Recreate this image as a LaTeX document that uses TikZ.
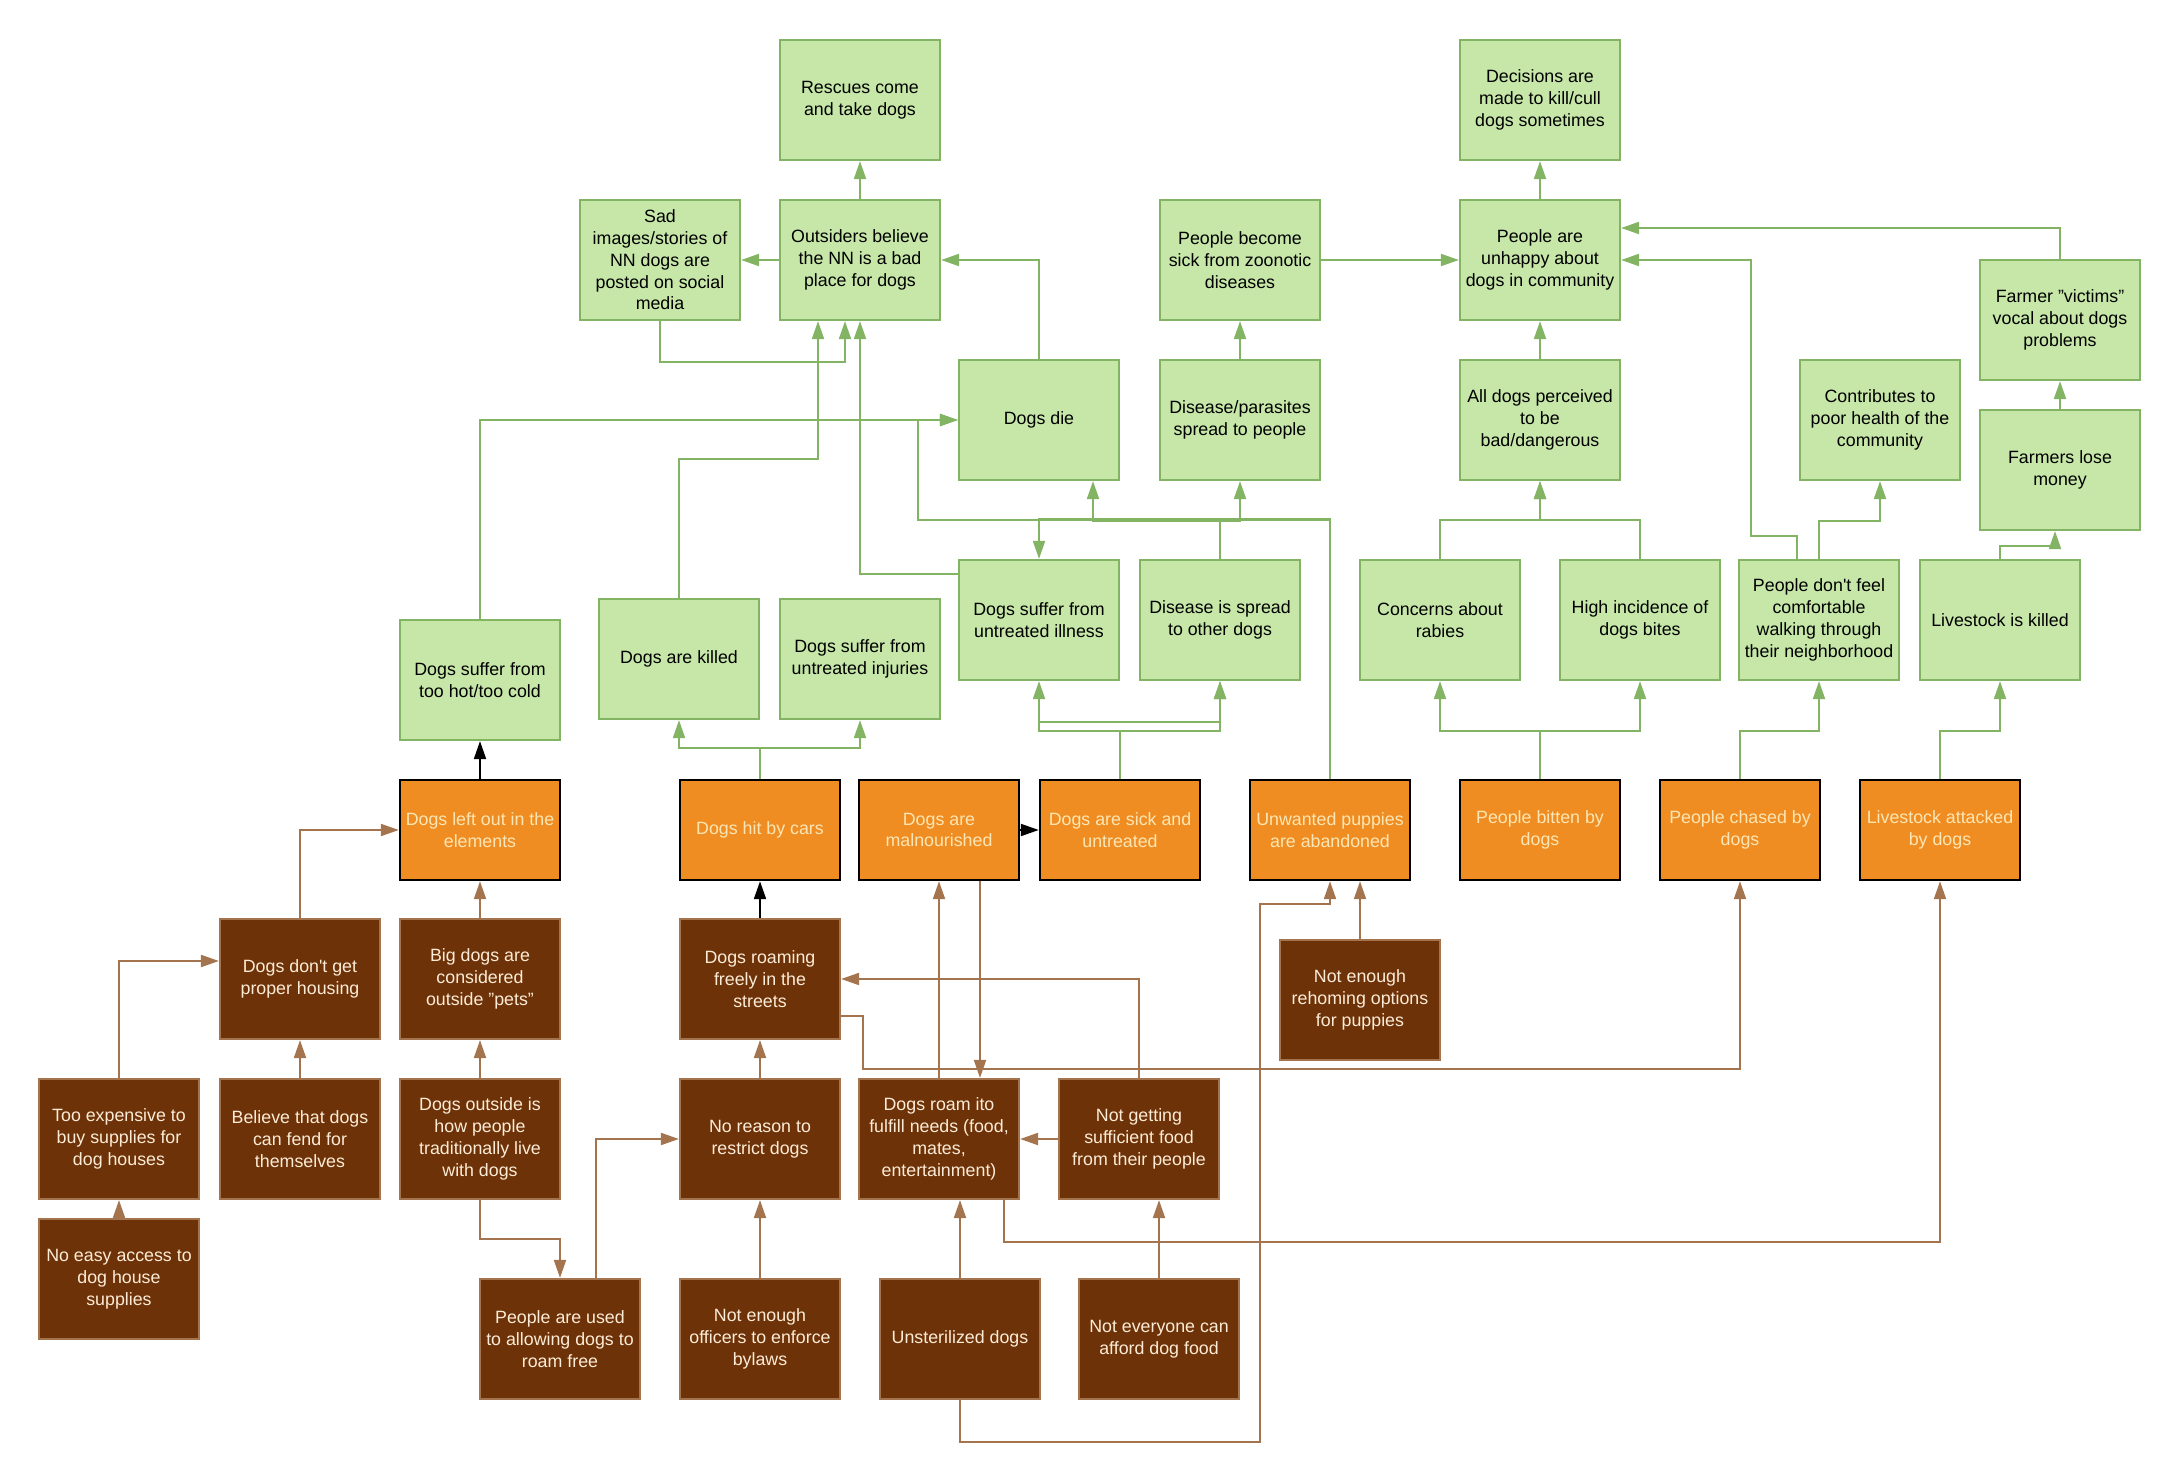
\documentclass[tikz,border=0pt]{standalone}
\usepackage{fontspec}
\setmainfont{Liberation Sans}
\usetikzlibrary{calc, arrows.meta, positioning}

\definecolor{gfill}{RGB}{198,231,168}
\definecolor{gline}{RGB}{130,180,100}
\definecolor{ofill}{RGB}{239,141,34}
\definecolor{otext}{RGB}{253,230,180}
\definecolor{bfill}{RGB}{110,50,8}
\definecolor{bline}{RGB}{164,116,78}
\definecolor{btext}{RGB}{252,236,215}

\begin{document}
\begin{tikzpicture}[x=0.5pt,y=-0.5pt,
    basebox/.style={rectangle, align=center, minimum width=80pt, inner sep=1pt, font=\fontsize{8.9pt}{10.9pt}\selectfont},
    greenbox/.style={basebox, draw=gline, fill=gfill, line width=1.1pt, minimum height=60pt, text=black},
    orangebox/.style={basebox, draw=black, fill=ofill, line width=1.2pt, minimum height=50pt, text=otext},
    brownbox/.style={basebox, draw=bline, fill=bfill, line width=1.1pt, minimum height=60pt, text=btext},
    garrow/.style={draw=gline, line width=1pt, -{Triangle[length=9pt,width=6pt]}},
    brarrow/.style={draw=bline, line width=1pt, -{Triangle[length=9pt,width=6pt]}},
    karrow/.style={draw=black, line width=1pt, -{Triangle[length=9pt,width=6pt]}}]
    \useasboundingbox (0,0) rectangle (2180,1481);

    % consequences
    \node[greenbox] (rescues) at (860,100) {Rescues come\\and take dogs};
    \node[greenbox] (sad) at (660,260) {Sad\\images/stories of\\NN dogs are\\posted on social\\media};
    \node[greenbox] (outsiders) at (860,260) {Outsiders believe\\the NN is a bad\\place for dogs};
    \node[greenbox] (zoonotic) at (1240,260) {People become\\sick from zoonotic\\diseases};
    \node[greenbox] (unhappy) at (1540,260) {People are\\unhappy about\\dogs in community};
    \node[greenbox] (decisions) at (1540,100) {Decisions are\\made to kill/cull\\dogs sometimes};
    \node[greenbox] (victims) at (2060,320) {Farmer "victims"\\vocal about dogs\\problems};
    \node[greenbox] (die) at (1039,420) {Dogs die};
    \node[greenbox] (parasites) at (1240,420) {Disease/parasites\\spread to people};
    \node[greenbox] (perceived) at (1540,420) {All dogs perceived\\to be\\bad/dangerous};
    \node[greenbox] (health) at (1880,420) {Contributes to\\poor health of the\\community};
    \node[greenbox] (money) at (2060,470) {Farmers lose\\money};
    \node[greenbox] (illness) at (1039,620) {Dogs suffer from\\untreated illness};
    \node[greenbox] (spread) at (1220,620) {Disease is spread\\to other dogs};
    \node[greenbox] (rabies) at (1440,620) {Concerns about\\rabies};
    \node[greenbox] (bites) at (1640,620) {High incidence of\\dogs bites};
    \node[greenbox] (walking) at (1819,620) {People don\textquotesingle t feel\\comfortable\\walking through\\their neighborhood};
    \node[greenbox] (livekilled) at (2000,620) {Livestock is killed};
    \node[greenbox] (hotcold) at (480,680) {Dogs suffer from\\too hot/too cold};
    \node[greenbox] (killed) at (679,659) {Dogs are killed};
    \node[greenbox] (injuries) at (860,659) {Dogs suffer from\\untreated injuries};

    % core problems
    \node[orangebox] (leftout) at (480,830) {Dogs left out in the\\elements};
    \node[orangebox] (cars) at (760,830) {Dogs hit by cars};
    \node[orangebox] (malnourished) at (939,830) {Dogs are\\malnourished};
    \node[orangebox] (sick) at (1120,830) {Dogs are sick and\\untreated};
    \node[orangebox] (puppies) at (1330,830) {Unwanted puppies\\are abandoned};
    \node[orangebox] (bitten) at (1540,830) {People bitten by\\dogs};
    \node[orangebox] (chased) at (1740,830) {People chased by\\dogs};
    \node[orangebox] (attacked) at (1940,830) {Livestock attacked\\by dogs};

    % causes
    \node[brownbox] (housing) at (300,979) {Dogs don\textquotesingle t get\\proper housing};
    \node[brownbox] (bigdogs) at (480,979) {Big dogs are\\considered\\outside "pets"};
    \node[brownbox] (roaming) at (760,979) {Dogs roaming\\freely in the\\streets};
    \node[brownbox] (rehoming) at (1360,1000) {Not enough\\rehoming options\\for puppies};
    \node[brownbox] (expensive) at (119,1139) {Too expensive to\\buy supplies for\\dog houses};
    \node[brownbox] (believe) at (300,1139) {Believe that dogs\\can fend for\\themselves};
    \node[brownbox] (outside) at (480,1139) {Dogs outside is\\how people\\traditionally live\\with dogs};
    \node[brownbox] (noreason) at (760,1139) {No reason to\\restrict dogs};
    \node[brownbox] (roamito) at (939,1139) {Dogs roam ito\\fulfill needs (food,\\mates,\\entertainment)};
    \node[brownbox] (notgetting) at (1139,1139) {Not getting\\sufficient food\\from their people};
    \node[brownbox] (access) at (119,1279) {No easy access to\\dog house\\supplies};
    \node[brownbox] (used) at (560,1339) {People are used\\to allowing dogs to\\roam free};
    \node[brownbox] (officers) at (760,1339) {Not enough\\officers to enforce\\bylaws};
    \node[brownbox] (unsterilized) at (960,1339) {Unsterilized dogs};
    \node[brownbox] (noteveryone) at (1159,1339) {Not everyone can\\afford dog food};

    % green links
    \draw[garrow] (outsiders) -- (rescues);
    \draw[garrow] (outsiders.west) -- (sad.east);
    \draw[garrow] (sad.south) -- ++(0,41) -| ($(outsiders.south)+(-15,0)$);
    \draw[garrow] (killed.north) -- ++(0,-139) -| ($(outsiders.south)+(-42,0)$);
    \draw[garrow] ($(illness.north west)+(0,15)$) -| (outsiders.south);
    \draw[garrow] (die.north) |- (outsiders.east);
    \draw[garrow] (hotcold.north) |- (die.west);
    \draw[garrow] (puppies.north) |- (918,520) |- (die.west);
    \draw[garrow] (puppies.north) |- ($(illness.north)+(0,-40)$) -- (illness.north);
    \draw[garrow] (spread.north) |- ($(die.south)+(54,40)$) -- ($(die.south)+(54,0)$);
    \draw[garrow] (spread.north) |- ($(parasites.south)+(0,40)$) -- (parasites.south);
    \draw[garrow] (sick.north) |- ($(illness.south)+(0,50)$) -- (illness.south);
    \draw[garrow] (sick.north) |- ($(illness.south)+(0,50)$) -- ++(0,-9) -| (spread.south);
    \draw[garrow] (sick.north) |- ($(spread.south)+(0,50)$) -- (spread.south);
    \draw[garrow] (cars.north) |- ($(killed.south)+(0,28)$) -- (killed.south);
    \draw[garrow] (cars.north) |- ($(injuries.south)+(0,28)$) -- (injuries.south);
    \draw[garrow] (parasites) -- (zoonotic);
    \draw[garrow] (zoonotic.east) -- (unhappy.west);
    \draw[garrow] (unhappy) -- (decisions);
    \draw[garrow] (perceived) -- (unhappy);
    \draw[garrow] (rabies.north) |- ($(perceived.south)+(0,39)$) -- (perceived.south);
    \draw[garrow] (bites.north) |- ($(perceived.south)+(0,39)$) -- (perceived.south);
    \draw[garrow] (bitten.north) |- ($(rabies.south)+(0,50)$) -- (rabies.south);
    \draw[garrow] (bitten.north) |- ($(bites.south)+(0,50)$) -- (bites.south);
    \draw[garrow] (chased.north) |- ($(walking.south)+(0,50)$) -- (walking.south);
    \draw[garrow] (attacked.north) |- ($(livekilled.south)+(0,50)$) -- (livekilled.south);
    \draw[garrow] (walking.north) |- ($(health.south)+(0,40)$) -- (health.south);
    \draw[garrow] ($(walking.north)+(-22,0)$) -- ++(0,-23) -| ($(unhappy.east)+(130,0)$) -- (unhappy.east);
    \draw[garrow] (victims.north) |- ($(unhappy.east)+(0,-32)$);
    \draw[garrow] (livekilled.north) |- ($(money.south)+(-5,15)$) -- ($(money.south)+(-5,0)$);
    \draw[garrow] (money) -- (victims);

    % black links
    \draw[karrow] (leftout) -- (hotcold);
    \draw[karrow] (roaming) -- (cars);
    \draw[karrow] (malnourished) -- (sick);

    % brown links
    \draw[brarrow] (housing.north) |- (leftout.west);
    \draw[brarrow] (bigdogs) -- (leftout);
    \draw[brarrow] (believe) -- (housing);
    \draw[brarrow] (outside) -- (bigdogs);
    \draw[brarrow] (expensive.north) |- ($(housing.west)+(0,-18)$);
    \draw[brarrow] (access) -- (expensive);
    \draw[brarrow] (outside.south) |- ($(used.north)+(0,-39)$) -- (used.north);
    \draw[brarrow] ($(used.north)+(36,0)$) |- (noreason.west);
    \draw[brarrow] (noreason) -- (roaming);
    \draw[brarrow] (officers) -- (noreason);
    \draw[brarrow] (notgetting.north) |- (roaming.east);
    \draw[brarrow] ($(roaming.east)+(0,37)$) -| ($(roaming.east)+(22,90)$) -| (chased.south);
    \draw[brarrow] (roamito.north) -- (malnourished.south);
    \draw[brarrow] ($(malnourished.south)+(41,0)$) -- ($(roamito.north)+(41,0)$);
    \draw[brarrow] (notgetting.west) -- (roamito.east);
    \draw[brarrow] (noteveryone.north) -- (noteveryone.north |- notgetting.south);
    \draw[brarrow] (unsterilized.north) -- (unsterilized.north |- roamito.south);
    \draw[brarrow] (unsterilized.south) -- ++(0,42) -| ($(puppies.south)+(-70,23)$) -| (puppies.south);
    \draw[brarrow] (rehoming.north) -- (rehoming.north |- puppies.south);
    \draw[brarrow] ($(roamito.south)+(65,0)$) |- ($(attacked.south)+(0,361)$) -- (attacked.south);
\end{tikzpicture}
\end{document}
